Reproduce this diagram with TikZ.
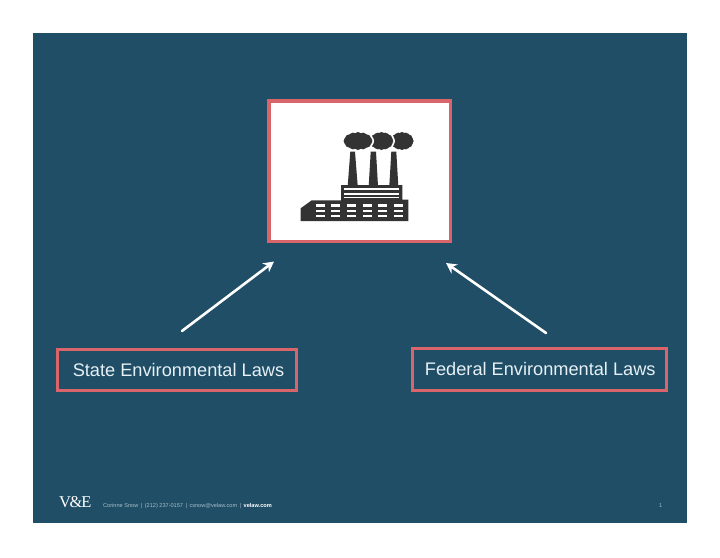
\documentclass[tikz,border=0pt]{standalone}
\usepackage{fontspec}
\setmainfont{Liberation Sans}
\newfontfamily\logofont{Liberation Serif}
\usetikzlibrary{arrows.meta}
\definecolor{bgblue}{HTML}{1F4E66}
\definecolor{boxred}{HTML}{D9646A}
\definecolor{icondark}{HTML}{333333}
\definecolor{labeltxt}{HTML}{E6F0F5}
\definecolor{foottxt}{HTML}{A9BFCB}
\tikzset{
  redbox/.style={draw=boxred,line width=3.4pt,inner sep=0pt,outer sep=0pt,anchor=north west},
  lawlabel/.style={text=labeltxt,font=\fontsize{18.2}{21}\selectfont,inner sep=0pt},
  arrowline/.style={draw=white,line width=2.6pt,line cap=round,-{Stealth[length=10.5pt,width=11pt]}},
  foot/.style={text=foottxt,font=\fontsize{5.6}{7}\selectfont,inner sep=0pt,anchor=base west},
  icon/.style={fill=icondark,draw=none},
  gap/.style={fill=white,draw=none},
}
% a cloud: a solid core with soft bumps round its edge; #1 colour, #2,#3 centre, #4,#5 radii, #6 extra radius
\newcommand{\smokepuff}[6]{%
  \fill[#1] ({#2-#4-#6},{#3-#5-#6}) rectangle ({#2+#4+#6},{#3+#5+#6});
  \foreach \t in {0,30,...,330}
    \fill[#1] ({#2+#4*cos(\t)},{#3+#5*sin(\t)}) circle ({4.4+#6});
}
\begin{document}
\begin{tikzpicture}[x=1pt,y=-1pt]
\useasboundingbox (0,0) rectangle (720,557);
\fill[white] (0,0) rectangle (720,557);
\fill[bgblue] (33,33) rectangle (687,523);
% factory box
\node[redbox,fill=white,minimum width=181.5pt,minimum height=140.5pt] (factory) at (268.8,100.8) {};
% factory icon
\fill[icon] (300.7,221) -- (300.7,208.3) -- (311.7,200.3) -- (341,200.3) -- (341,185) -- (402.3,185) -- (402.3,199.7) -- (408.3,199.7) -- (408.3,221) -- cycle;
\foreach \a/\b/\c/\d in {347.7/350.3/355/357.7,368.7/370.7/376/378,389.3/391.3/396.3/398.3}
  \fill[icon] (\a,186) -- (\b,151.7) -- (\c,151.7) -- (\d,186) -- cycle;
\foreach \y/\h in {188.3/2,192.5/2,196.5/1.6}
  \fill[gap] (344,\y) rectangle (399.3,\y+\h);
\foreach \x in {315.7,331,346.7,362.7,378,394}
  \foreach \y in {204.3,209.7,214.7}
    \fill[gap] (\x,\y) rectangle (\x+8.8,\y+2.6);
% smoke, right to left, each ringed in white
\smokepuff{icondark}{402}{141}{7.2}{4.6}{0}
\smokepuff{white}{381.5}{141}{7.4}{4.6}{1.6}
\smokepuff{icondark}{381.5}{141}{7.4}{4.6}{0}
\smokepuff{white}{358}{141}{10}{4.6}{1.6}
\smokepuff{icondark}{358}{141}{10}{4.6}{0}
% law boxes
\node[redbox,minimum width=238.6pt,minimum height=41pt] (state) at (57.7,349.7) {};
\node[redbox,minimum width=253.6pt,minimum height=41.6pt] (federal) at (412.7,348.7) {};
\node[lawlabel] (statelabel) at (178.5,369.5) {State Environmental Laws};
\node[lawlabel] (federallabel) at (540.3,369) {Federal Environmental Laws};
% arrows
\coordinate (leftfrom) at (182,331);
\coordinate (rightfrom) at (546,333);
\coordinate (lefttip) at (274,261.5);
\coordinate (righttip) at (446,263);
\draw[arrowline] (leftfrom) -- (lefttip);
\draw[arrowline] (rightfrom) -- (righttip);
% footer
\node[text=white,font=\logofont\fontsize{16.5}{20}\selectfont,inner sep=0pt,anchor=base west] (logo) at (59,507.5) {V\kern-1.5pt\&\kern-1.2ptE};
\node[foot] (contact) at (103,507) {Corinne Snow \,\textbar\, (212) 237-0157 \,\textbar\, csnow@velaw.com \,\textbar\, \textcolor{white}{\bfseries velaw.com}};
\node[foot] (page) at (659,507) {1};
\end{tikzpicture}
\end{document}
